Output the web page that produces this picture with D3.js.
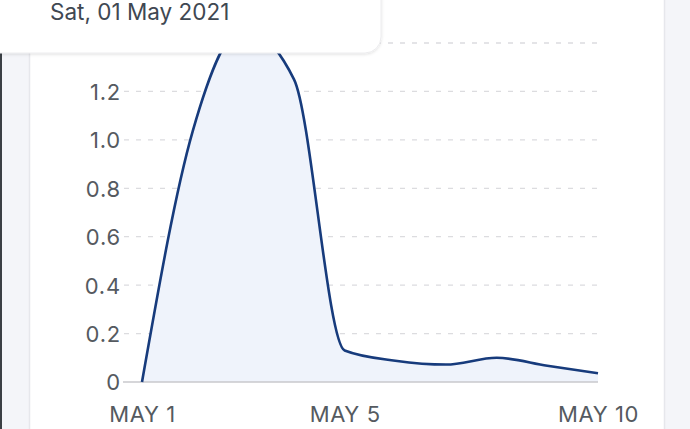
<!DOCTYPE html>
<html>
<head>
<meta charset="utf-8">
<script src="https://cdn.jsdelivr.net/npm/d3@7"></script>
<style>
html,body{margin:0;padding:0;background:#f4f5f9;overflow:hidden;}
svg{display:block;}
</style>
</head>
<body>
<svg id="chart" width="690" height="429"></svg>
<script>
const dates = ["2021-05-01","2021-05-02","2021-05-03","2021-05-04","2021-05-05","2021-05-06","2021-05-07","2021-05-08","2021-05-09","2021-05-10"];
const values = [0, 1.035, 1.46, 1.25, 0.13, 0.088, 0.072, 0.10, 0.067, 0.036];
const yTicks = [0, 0.2, 0.4, 0.6, 0.8, 1.0, 1.2, 1.4];
const yTickLabels = ["0", "0.2", "0.4", "0.6", "0.8", "1.0", "1.2", ""];
const xTickDates = ["2021-05-01", "2021-05-05", "2021-05-10"];
const xTickLabels = ["MAY 1", "MAY 5", "MAY 10"];
const tooltipText = "Sat, 01 May 2021";

const parse = d3.utcParse("%Y-%m-%d");
const data = dates.map((d, i) => ({date: parse(d), value: values[i]}));

const svg = d3.select("#chart");
const W = 690, H = 429;

svg.append("rect").attr("x", 0).attr("y", 0).attr("width", W).attr("height", H).attr("fill", "#f4f5f9");
svg.append("rect").attr("x", 0).attr("y", 0).attr("width", 2).attr("height", H).attr("fill", "#3b4045");
svg.append("rect").attr("x", 29.5).attr("y", -20).attr("width", 635).attr("height", H + 40)
  .attr("fill", "#ffffff").attr("stroke", "#e6e7ec").attr("stroke-width", 1.5);

const x = d3.scaleUtc().domain([parse("2021-05-01"), parse("2021-05-10")]).range([142, 598]);
const y = d3.scaleLinear().domain([0, 1.4]).range([382, 43]);

const font = "Inter, Roboto, sans-serif";

const grid = svg.append("g");
yTicks.forEach((t, i) => {
  if (t === 0) return;
  grid.append("line")
    .attr("x1", 124).attr("x2", 598)
    .attr("y1", y(t)).attr("y2", y(t))
    .attr("stroke", "#dcdcdf").attr("stroke-width", 1.3)
    .attr("stroke-dasharray", "5,7");
});

const yAxis = d3.axisLeft(y).tickValues(yTicks).tickFormat((d, i) => yTickLabels[i]).tickSize(0).tickPadding(1);
const gy = svg.append("g").attr("transform", "translate(122,0)").call(yAxis);
gy.select(".domain").remove();
gy.selectAll("text").attr("font-family", font).attr("font-size", 22).attr("letter-spacing", 0.8)
  .attr("fill", "#555a60").attr("dy", "0.36em");

const curve = d3.curveMonotoneX;
const area = d3.area().x(d => x(d.date)).y0(y(0)).y1(d => y(d.value)).curve(curve);
const line = d3.line().x(d => x(d.date)).y(d => y(d.value)).curve(curve);
svg.append("path").datum(data).attr("d", area).attr("fill", "#eff3fb");

svg.append("line").attr("x1", 123).attr("x2", 598).attr("y1", y(0)).attr("y2", y(0))
  .attr("stroke", "#c8c9cc").attr("stroke-width", 1.5);

svg.append("path").datum(data).attr("d", line).attr("fill", "none")
  .attr("stroke", "#173b7c").attr("stroke-width", 2.6).attr("stroke-linejoin", "round");

const xAxis = d3.axisBottom(x).tickValues(xTickDates.map(parse)).tickFormat((d, i) => xTickLabels[i]).tickSize(0).tickPadding(0);
const gx = svg.append("g").attr("transform", "translate(0,406)").call(xAxis);
gx.select(".domain").remove();
gx.selectAll("text").attr("font-family", font).attr("font-size", 22).attr("letter-spacing", 0.6)
  .attr("fill", "#555a60").attr("dy", "0.71em");

const defs = svg.append("defs");
const f = defs.append("filter").attr("id", "shadow").attr("x", "-10%").attr("y", "-50%").attr("width", "120%").attr("height", "200%");
f.append("feDropShadow").attr("dx", 0).attr("dy", 1).attr("stdDeviation", 1.5).attr("flood-color", "#000").attr("flood-opacity", 0.12);
svg.append("rect").attr("x", -20).attr("y", -30).attr("width", 401).attr("height", 83).attr("rx", 16)
  .attr("fill", "#ffffff").attr("stroke", "#ececee").attr("stroke-width", 1).attr("filter", "url(#shadow)");
svg.append("text").attr("x", 50).attr("y", 20).text(tooltipText)
  .attr("font-family", font).attr("font-size", 22.5).attr("fill", "#3f4852");
</script>
</body>
</html>
